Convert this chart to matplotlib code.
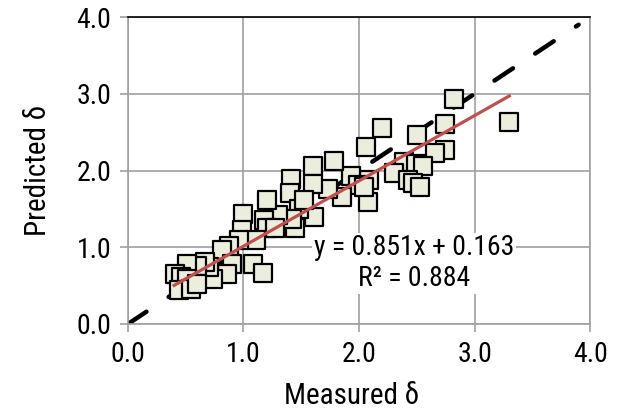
import matplotlib.pyplot as plt
import numpy as np

# measured vs predicted delta
measured = [2.82, 3.30, 2.20, 2.06, 2.50, 2.74, 2.74, 2.66, 2.39, 2.49,
            2.55, 2.30, 2.42, 2.47, 2.53, 2.09, 2.08, 1.93, 1.99, 1.85,
            1.78, 1.73, 1.60, 1.60, 1.61, 1.41, 1.40, 1.48, 1.45, 1.42,
            1.30, 1.20, 1.18, 1.20, 1.27, 1.00, 0.99, 1.11, 0.96, 0.875,
            0.81, 0.90, 0.86, 1.08, 1.17, 0.74, 0.70, 0.67, 0.60, 0.51,
            0.41, 0.46, 0.51, 0.44, 0.55, 0.60, 1.52, 2.04]
predicted = [2.93, 2.63, 2.55, 2.31, 2.46, 2.60, 2.27, 2.23, 2.11, 2.09,
             2.06, 1.97, 1.87, 1.84, 1.78, 1.87, 1.59, 1.93, 1.81, 1.66,
             2.13, 1.76, 2.06, 1.83, 1.40, 1.89, 1.71, 1.50, 1.25, 1.37,
             1.42, 1.62, 1.36, 1.25, 1.25, 1.43, 1.22, 1.10, 1.10, 1.02,
             0.96, 0.78, 0.65, 0.78, 0.66, 0.59, 0.74, 0.81, 0.76, 0.78,
             0.65, 0.61, 0.59, 0.44, 0.46, 0.52, 1.61, 1.79]

slope, intercept = 0.851, 0.163
r2 = 0.884
fit_range = [0.40, 3.30]
ticks = [0.0, 1.0, 2.0, 3.0, 4.0]

plt.rcParams['font.family'] = ['Roboto Condensed', 'DejaVu Sans']

fig = plt.figure(figsize=(6.18, 4.12), dpi=100)
ax = fig.add_axes([0.207, 0.2136, 0.748, 0.7451])

# 1:1 line
ax.plot([0, 3.9], [0, 3.9], color='black', lw=3.2, dashes=(5, 6),
        dash_capstyle='round', zorder=2)
ax.scatter(measured, predicted, marker='s', s=160, facecolor='#EBEEDC',
           edgecolor='black', linewidths=1.6, zorder=3)
xf = np.array(fit_range)
ax.plot(xf, slope * xf + intercept, color='#C0504D', lw=2.3, zorder=4)

ax.text(2.476, 0.79, 'y = %.3fx + %.3f\nR² = %.3f' % (slope, intercept, r2),
        ha='center', va='center', fontsize=20, linespacing=1.2,
        bbox=dict(facecolor='white', edgecolor='none', pad=1), zorder=5)

ax.set_xlim(0, 4)
ax.set_ylim(0, 4)
ax.set_xticks(ticks)
ax.set_yticks(ticks)
ax.set_xticklabels(['%.1f' % t for t in ticks])
ax.set_yticklabels(['%.1f' % t for t in ticks])
ax.tick_params(labelsize=20, length=6, width=1.2, color='#A0A0A0', pad=6)
ax.grid(True, color='#A0A0A0', lw=1.2, zorder=0)
ax.set_axisbelow(True)
for side in ['left', 'bottom', 'right']:
    ax.spines[side].set_color('#A0A0A0')
    ax.spines[side].set_linewidth(1.2)
ax.spines['top'].set_color('black')
ax.spines['top'].set_linewidth(1.2)

ax.set_xlabel('Measured δ', fontsize=21)
ax.set_ylabel('Predicted δ', fontsize=21)
ax.xaxis.set_label_coords(0.485, -0.19)
ax.yaxis.set_label_coords(-0.165, 0.5)

fig.savefig('out.png', dpi=100)
